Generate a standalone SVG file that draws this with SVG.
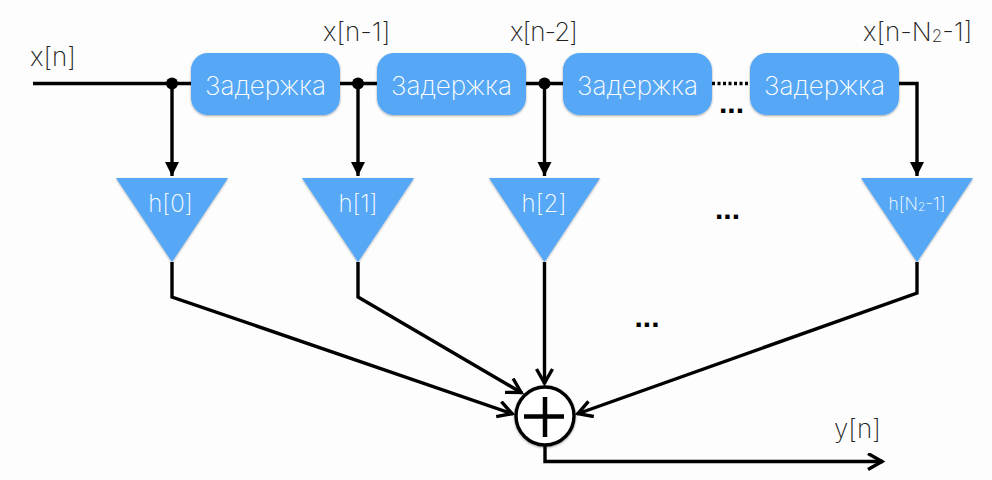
<svg xmlns="http://www.w3.org/2000/svg" width="992" height="480" viewBox="0 0 992 480">
<style>
.w{fill:none;stroke:#000;stroke-width:3.400}
.d{fill:#56a8f7}
.t{font-family:"Inter","Liberation Sans",sans-serif;font-weight:200;fill:#222;font-size:26px}
.l{font-family:"Inter","Liberation Sans",sans-serif;font-weight:200;fill:#fff;font-size:26px;text-anchor:middle}
.e{font-family:"Liberation Sans",sans-serif;font-weight:bold;fill:#000;font-size:30px;text-anchor:middle}
</style>
<defs>
<marker id="a" markerUnits="userSpaceOnUse" markerWidth="16" markerHeight="16" refX="14" refY="7" orient="auto"><path d="M0 0L14 7L0 14Z" fill="#000"/></marker>
<marker id="o" markerUnits="userSpaceOnUse" markerWidth="22" markerHeight="22" refX="17" refY="9" orient="auto"><path d="M2 1L16 9L2 17" fill="none" stroke="#000" stroke-width="3.400"/></marker>
<filter id="s" x="-10%" y="-10%" width="120%" height="125%"><feDropShadow dx="0" dy="1" stdDeviation="1.200" flood-color="#000" flood-opacity=".35"/></filter>
</defs>
<rect width="992" height="480" fill="#fdfdfd"/>
<g id="connectors">
<path class="w" d="M33 83.500H191M340 83.500H377M526 83.500H563"/>
<path d="M712 83.500H750" fill="none" stroke="#000" stroke-width="3.400" stroke-dasharray="3 2.500"/>
<path class="w" d="M899 83.500H917V176" marker-end="url(#a)"/>
<path class="w" d="M172 84V176" marker-end="url(#a)"/>
<path class="w" d="M358 84V176" marker-end="url(#a)"/>
<path class="w" d="M544.500 84V176" marker-end="url(#a)"/>
<circle cx="172" cy="83.500" r="6"/><circle cx="358" cy="83.500" r="6"/><circle cx="544.500" cy="83.500" r="6"/>
<path class="w" d="M172 262V297L513 414" marker-end="url(#o)"/>
<path class="w" d="M358 262V297L522 393" marker-end="url(#o)"/>
<path class="w" d="M544.500 262V384" marker-end="url(#o)"/>
<path class="w" d="M917 262V293L577 414" marker-end="url(#o)"/>
<path class="w" d="M545 445V461.500H883" marker-end="url(#o)"/>
</g>
<g id="delay1"><rect class="d" x="191" y="53" width="149" height="62" rx="17" filter="url(#s)"/><text class="l" x="265.500" y="95">Задержка</text></g>
<g id="delay2"><rect class="d" x="377" y="53" width="149" height="62" rx="17" filter="url(#s)"/><text class="l" x="451.500" y="95">Задержка</text></g>
<g id="delay3"><rect class="d" x="563" y="53" width="149" height="62" rx="17" filter="url(#s)"/><text class="l" x="637.500" y="95">Задержка</text></g>
<g id="delay4"><rect class="d" x="750" y="53" width="149" height="62" rx="17" filter="url(#s)"/><text class="l" x="824.500" y="95">Задержка</text></g>
<g id="h0"><path class="d" d="M116 178H228L172 262Z" filter="url(#s)"/><text class="l" x="170.500" y="212" style="font-size:24px">h[0]</text></g>
<g id="h1"><path class="d" d="M302 178H414L358 262Z" filter="url(#s)"/><text class="l" x="358" y="212" style="font-size:24px">h[1]</text></g>
<g id="h2"><path class="d" d="M489 178H600L544.500 262Z" filter="url(#s)"/><text class="l" x="544" y="212" style="font-size:24px">h[2]</text></g>
<g id="hN"><path class="d" d="M861 178H973L917 262Z" filter="url(#s)"/><text class="l" x="917" y="210" style="font-size:17.500px">h[N<tspan style="font-size:12px" dy="1">2</tspan><tspan dy="-1">-1]</tspan></text></g>
<g id="sum"><circle cx="545" cy="416" r="29" fill="#fff" stroke="#000" stroke-width="3.400" filter="url(#s)"/><path d="M545 397V437M524 416.500H564" fill="none" stroke="#000" stroke-width="4.500"/></g>
<g id="labels">
<text class="t" x="30" y="66">x[n]</text>
<text class="t" x="323" y="41">x[n-1]</text>
<text class="t" x="510" y="41" textLength="68">x[n-2]</text>
<text class="t" x="863" y="41">x[n-N<tspan style="font-size:17px" dy="1">2</tspan><tspan dy="-1">-1]</tspan></text>
<text class="t" x="834" y="438">y[n]</text>
<text class="e" x="731.500" y="113">...</text>
<text class="e" x="727.500" y="219">...</text>
<text class="e" x="647" y="327">...</text>
</g>
</svg>
